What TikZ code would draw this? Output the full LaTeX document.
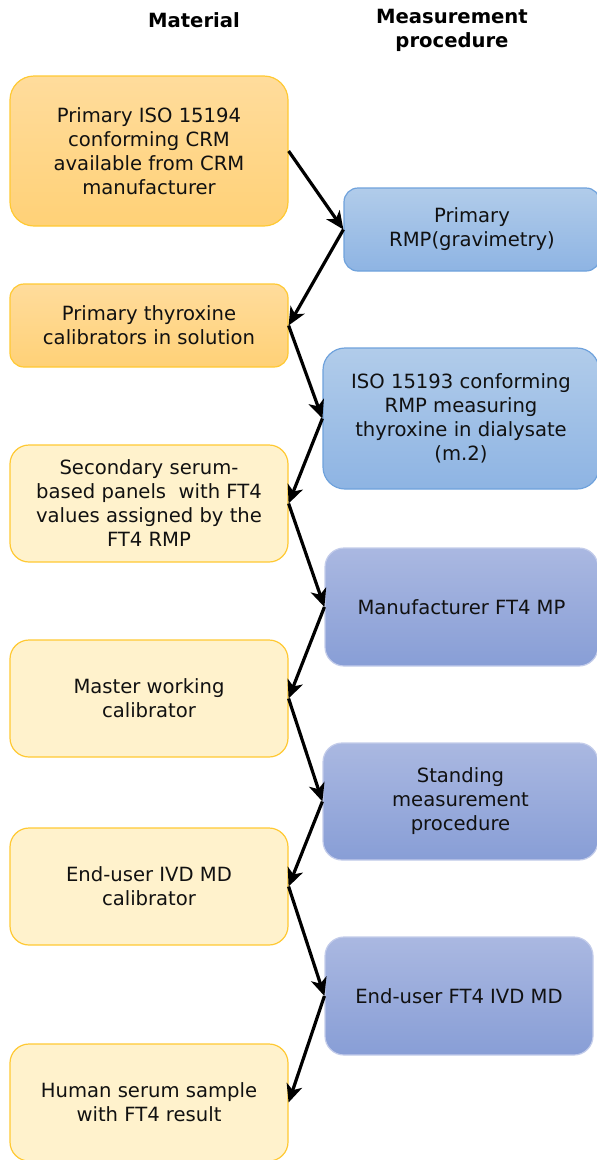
\documentclass[tikz,border=0pt]{standalone}
\usepackage{fontspec}
\setmainfont{DejaVu Sans}
\usetikzlibrary{arrows.meta}

\definecolor{orangetop}{HTML}{FFDC9C}
\definecolor{orangebot}{HTML}{FFD177}
\definecolor{orangeline}{HTML}{FFC933}
\definecolor{creamfill}{HTML}{FFF2CC}
\definecolor{creamline}{HTML}{FFC933}
\definecolor{bluetop}{HTML}{B1CCEA}
\definecolor{bluebot}{HTML}{8EB4E3}
\definecolor{blueline}{HTML}{6FA2DC}
\definecolor{violettop}{HTML}{AAB8E1}
\definecolor{violetbot}{HTML}{889ED6}
\definecolor{violetline}{HTML}{C3CCEA}
\definecolor{textcol}{HTML}{111111}

\tikzset{
  boxtext/.style={align=center, text=textcol, font=\fontsize{19.6}{24}\selectfont, inner sep=0pt},
  orangebox/.style={boxtext, draw=orangeline, line width=1.2pt, top color=orangetop, bottom color=orangebot},
  creambox/.style={boxtext, draw=creamline, line width=1.2pt, fill=creamfill},
  bluebox/.style={boxtext, draw=blueline, line width=1.2pt, top color=bluetop, bottom color=bluebot},
  violetbox/.style={boxtext, draw=violetline, line width=1.2pt, top color=violettop, bottom color=violetbot},
  header/.style={align=center, font=\bfseries\fontsize{19.6}{24}\selectfont, inner sep=0pt},
  flow/.style={draw=black, line width=3.2pt, -{Stealth[length=18pt,width=16pt,inset=5pt]}}
}

\begin{document}
\begin{tikzpicture}[x=1pt,y=-1pt]
\useasboundingbox (0,0) rectangle (597,1160);

% column headings
\node[header] (hmat) at (194,20) {Material};
\node[header] (hproc) at (452,30) {Measurement\\procedure};

% material column
\node[orangebox, minimum width=278, minimum height=150, rounded corners=24pt] (m1) at (149,151)
  {Primary ISO 15194\\conforming CRM\\available from CRM\\manufacturer};
\node[orangebox, minimum width=278, minimum height=83, rounded corners=14pt] (m2) at (149,325.5)
  {Primary thyroxine\\calibrators in solution};
\node[creambox, minimum width=278, minimum height=117, rounded corners=19pt] (m3) at (149,503.5)
  {Secondary serum-\\based panels\ \ with FT4\\values assigned by the\\FT4 RMP};
\node[creambox, minimum width=278, minimum height=117, rounded corners=19pt] (m4) at (149,698.5)
  {Master working\\calibrator};
\node[creambox, minimum width=278, minimum height=117, rounded corners=19pt] (m5) at (149,886.5)
  {End-user IVD MD\\calibrator};
\node[creambox, minimum width=278, minimum height=117, rounded corners=19pt] (m6) at (149,1102.5)
  {Human serum sample\\with FT4 result};

% measurement procedure column
\node[bluebox, minimum width=256, minimum height=83, rounded corners=14pt] (p1) at (472,229.5)
  {Primary\\RMP(gravimetry)};
\node[bluebox, minimum width=276, minimum height=141, rounded corners=22pt] (p2) at (461,418.5)
  {ISO 15193 conforming\\RMP measuring\\thyroxine in dialysate\\(m.2)};
\node[violetbox, minimum width=273, minimum height=118, rounded corners=19pt] (p3) at (461.5,607)
  {Manufacturer FT4 MP};
\node[violetbox, minimum width=275, minimum height=117, rounded corners=19pt] (p4) at (460.5,801.5)
  {Standing\\measurement\\procedure};
\node[violetbox, minimum width=268, minimum height=118, rounded corners=19pt] (p5) at (459,996)
  {End-user FT4 IVD MD};

% traceability chain
\draw[flow] (m1.east) -- (p1.west);
\draw[flow] (p1.west) -- (m2.east);
\draw[flow] (m2.east) -- (p2.west);
\draw[flow] (p2.west) -- (m3.east);
\draw[flow] (m3.east) -- (p3.west);
\draw[flow] (p3.west) -- (m4.east);
\draw[flow] (m4.east) -- (p4.west);
\draw[flow] (p4.west) -- (m5.east);
\draw[flow] (m5.east) -- (p5.west);
\draw[flow] (p5.west) -- (m6.east);
\end{tikzpicture}
\end{document}
